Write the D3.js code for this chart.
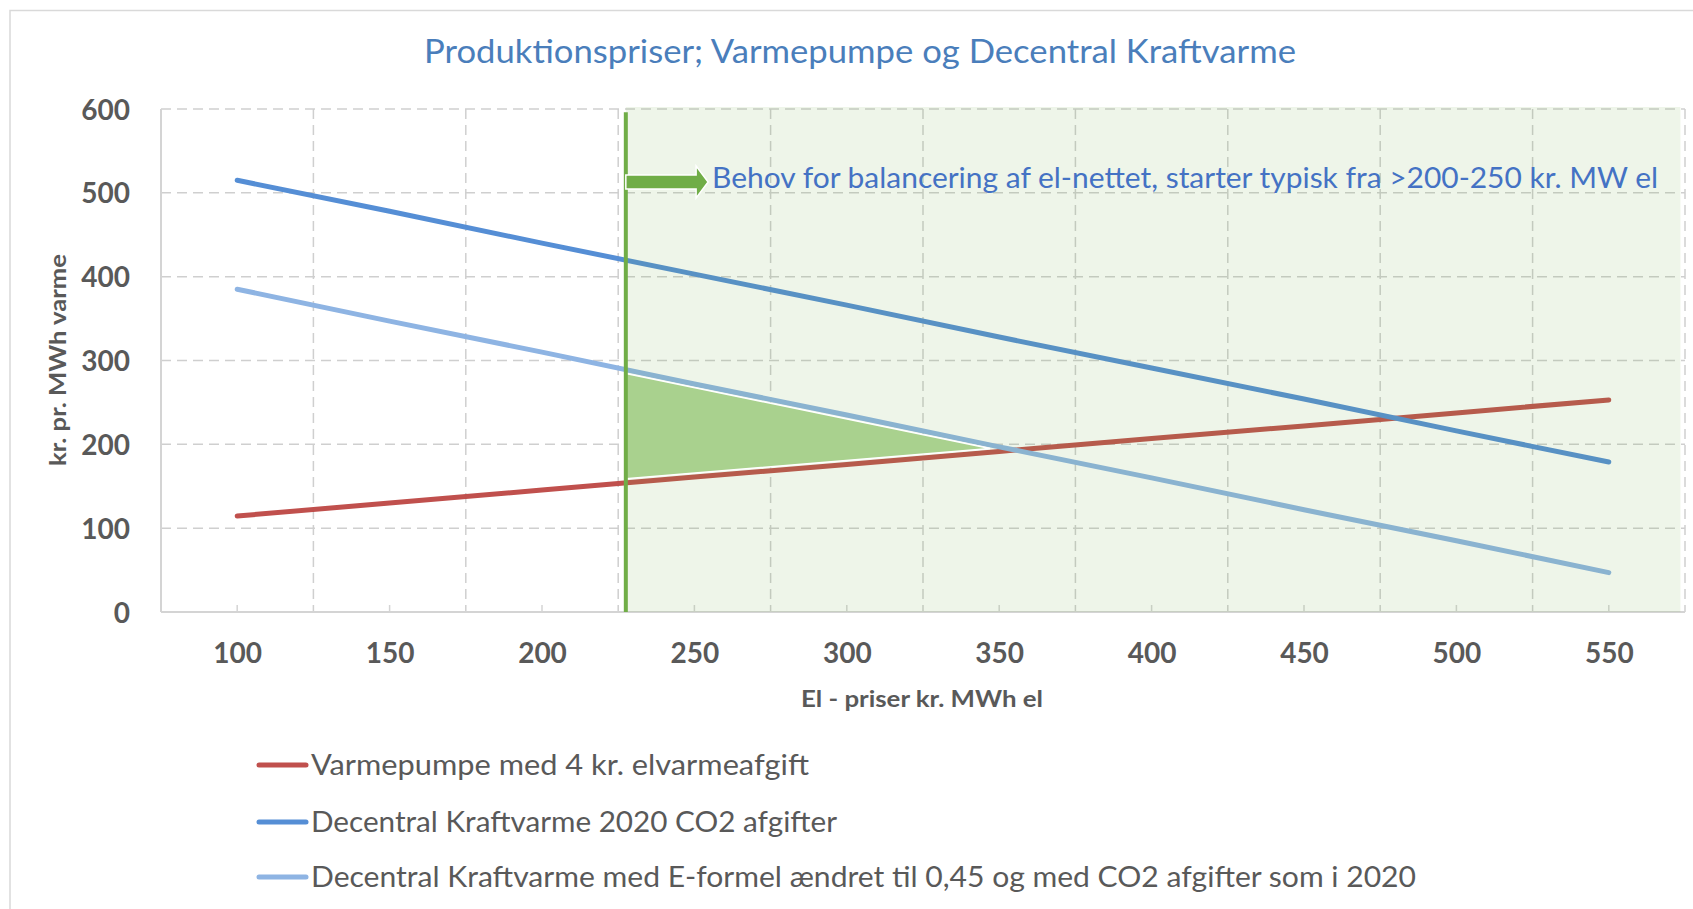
<!DOCTYPE html>
<html>
<head>
<meta charset="utf-8">
<script src="https://cdn.jsdelivr.net/npm/d3@7"></script>
<style>
  html, body { margin: 0; padding: 0; background: #fff; }
  svg { display: block; font-family: Lato, "Open Sans", sans-serif; }
</style>
</head>
<body>
<svg id="chart" width="1693" height="909"></svg>
<script>
// el-priser (kategorier på x-aksen)
const elPrices = [100, 150, 200, 250, 300, 350, 400, 450, 500, 550];
// produktionspriser, kr. pr. MWh varme
const varmepumpe = [114.5, 130, 145.5, 161, 176, 191.5, 207, 222, 237.5, 253];
const kraftvarme2020 = [515, 478, 440, 403, 366, 328, 291, 254, 216, 179];
const kraftvarmeEformel = [385, 347, 310, 272, 235, 197, 160, 122, 85, 47];
const yTicks = [0, 100, 200, 300, 400, 500, 600];

const seriesNames = [
  "Varmepumpe med 4 kr. elvarmeafgift",
  "Decentral Kraftvarme 2020 CO2 afgifter",
  "Decentral Kraftvarme med E-formel ændret til 0,45 og med CO2 afgifter som i 2020",
];
const seriesColors = ["#C0504D", "#558ED5", "#8EB4E3"];

// markeret område (balancering) og trekant mellem kurverne
const balanceStart = 227.5;
const balanceEnd = 573.5;
const triangle = [[227.5, 284.5], [347, 195], [227.5, 159]];
const annotation = "Behov for balancering af el-nettet, starter typisk fra >200-250 kr. MW el";

const margin = { top: 109, right: 8, bottom: 297, left: 161 };
const width = 1693, height = 909;

const svg = d3.select("#chart");

const x = d3.scaleLinear()
  .domain([75, 575])
  .range([margin.left, width - margin.right]);
const y = d3.scaleLinear()
  .domain([0, 600])
  .range([height - margin.bottom, margin.top]);

const gridColor = "#CFCFCF";
const textGrey = "#595959";

function fit(sel, w) {
  return sel.attr("textLength", w).attr("lengthAdjust", "spacingAndGlyphs");
}

// chart border
svg.append("rect")
  .attr("x", 10).attr("y", 10.5)
  .attr("width", 1720).attr("height", 1000)
  .attr("fill", "none").attr("stroke", "#D9D9D9").attr("stroke-width", 1.5);

// title
fit(svg.append("text")
  .attr("x", 860).attr("y", 63)
  .attr("text-anchor", "middle")
  .attr("font-size", 32)
  .attr("fill", "#4A7EBB")
  .text("Produktionspriser; Varmepumpe og Decentral Kraftvarme"), 872);

// gridlines
const grid = svg.append("g");
grid.selectAll("line.h").data(yTicks.filter((d) => d > 0)).enter()
  .append("line")
  .attr("x1", x(75)).attr("x2", x(575))
  .attr("y1", (d) => y(d)).attr("y2", (d) => y(d))
  .attr("stroke", gridColor).attr("stroke-width", 1.5)
  .attr("stroke-dasharray", "10,6");
grid.selectAll("line.v").data(elPrices.map((d) => d + 25)).enter()
  .append("line")
  .attr("x1", (d) => x(d)).attr("x2", (d) => x(d))
  .attr("y1", y(600)).attr("y2", y(0))
  .attr("stroke", gridColor).attr("stroke-width", 1.5)
  .attr("stroke-dasharray", "10,6");

// axes
const xAxis = svg.append("g")
  .attr("transform", `translate(0, ${y(0)})`)
  .call(d3.axisBottom(x).tickValues(elPrices).tickSize(0).tickPadding(0));
xAxis.select(".domain").remove();
xAxis.selectAll("text")
  .attr("y", 51).attr("dy", 0)
  .attr("font-size", 28).attr("font-weight", "bold")
  .attr("font-family", "Lato, sans-serif")
  .attr("fill", textGrey);

svg.append("line")
  .attr("x1", x(75)).attr("x2", x(575))
  .attr("y1", y(0)).attr("y2", y(0))
  .attr("stroke", "#D4D4D4").attr("stroke-width", 2);
svg.append("line")
  .attr("x1", x(75)).attr("x2", x(75))
  .attr("y1", y(600)).attr("y2", y(0))
  .attr("stroke", "#D4D4D4").attr("stroke-width", 2);
svg.append("g").selectAll("line").data(elPrices).enter()
  .append("line")
  .attr("x1", (d) => x(d)).attr("x2", (d) => x(d))
  .attr("y1", y(0)).attr("y2", y(0) - 7)
  .attr("stroke", "#D4D4D4").attr("stroke-width", 1.5);

const yAxis = svg.append("g")
  .attr("transform", `translate(${margin.left - 31}, 0)`)
  .call(d3.axisLeft(y).tickValues(yTicks).tickSize(0).tickPadding(0));
yAxis.select(".domain").remove();
yAxis.selectAll("text")
  .attr("dy", "0.36em")
  .attr("font-size", 28).attr("font-weight", "bold")
  .attr("font-family", "Lato, sans-serif")
  .attr("fill", textGrey);

// axis titles
fit(svg.append("text")
  .attr("x", 922).attr("y", 707)
  .attr("text-anchor", "middle")
  .attr("font-size", 23).attr("font-weight", "bold")
  .attr("fill", textGrey)
  .text("El - priser kr. MWh el"), 242);
fit(svg.append("text")
  .attr("transform", "translate(66, 360) rotate(-90)")
  .attr("text-anchor", "middle")
  .attr("font-size", 23).attr("font-weight", "bold")
  .attr("fill", textGrey)
  .text("kr. pr. MWh varme"), 212);

// lines
const line = d3.line()
  .x((d, i) => x(elPrices[i]))
  .y((d) => y(d));
const allSeries = [varmepumpe, kraftvarme2020, kraftvarmeEformel];
svg.append("g").selectAll("path").data(allSeries).enter()
  .append("path")
  .attr("d", (d) => line(d))
  .attr("fill", "none")
  .attr("stroke", (d, i) => seriesColors[i])
  .attr("stroke-width", 5)
  .attr("stroke-linecap", "round");

// green shaded area (overlay)
svg.append("rect")
  .attr("x", x(balanceStart))
  .attr("y", y(600) - 2)
  .attr("width", x(balanceEnd) - x(balanceStart))
  .attr("height", y(0) - y(600) + 2)
  .attr("fill", "#70AD47")
  .attr("fill-opacity", 0.12);

svg.append("path")
  .attr("d", d3.line().x((d) => x(d[0])).y((d) => y(d[1]))(triangle) + "Z")
  .attr("fill", "#A9D18E")
  .attr("stroke", "#fff")
  .attr("stroke-width", 1.5);

svg.append("line")
  .attr("x1", x(balanceStart)).attr("x2", x(balanceStart))
  .attr("y1", y(596)).attr("y2", y(0))
  .attr("stroke", "#70AD47").attr("stroke-width", 4);

// arrow
const ax0 = x(balanceStart), ax1 = x(254.5), ay = y(513);
const arrow = [
  [ax0, ay - 7], [ax1 - 12, ay - 7], [ax1 - 12, ay - 16], [ax1, ay],
  [ax1 - 12, ay + 16], [ax1 - 12, ay + 7], [ax0, ay + 7],
];
svg.append("path")
  .attr("d", d3.line()(arrow) + "Z")
  .attr("fill", "#70AD47")
  .attr("stroke", "#fff")
  .attr("stroke-width", 1.5);

fit(svg.append("text")
  .attr("x", ax1 + 4).attr("y", 188)
  .attr("font-size", 28)
  .attr("fill", "#4472C4")
  .text(annotation), 946);

// legend
const legendY = [765, 822, 877];
const legendW = [498, 526, 1105];
const legend = svg.append("g").selectAll("g").data(seriesNames).enter()
  .append("g")
  .attr("transform", (d, i) => `translate(259, ${legendY[i]})`);
legend.append("line")
  .attr("x1", 0).attr("x2", 47)
  .attr("stroke", (d, i) => seriesColors[i])
  .attr("stroke-width", 5)
  .attr("stroke-linecap", "round");
legend.append("text")
  .attr("x", 52).attr("y", 10)
  .attr("font-size", 28)
  .attr("fill", textGrey)
  .text((d) => d)
  .each(function (d, i) { fit(d3.select(this), legendW[i]); });
</script>
</body>
</html>
